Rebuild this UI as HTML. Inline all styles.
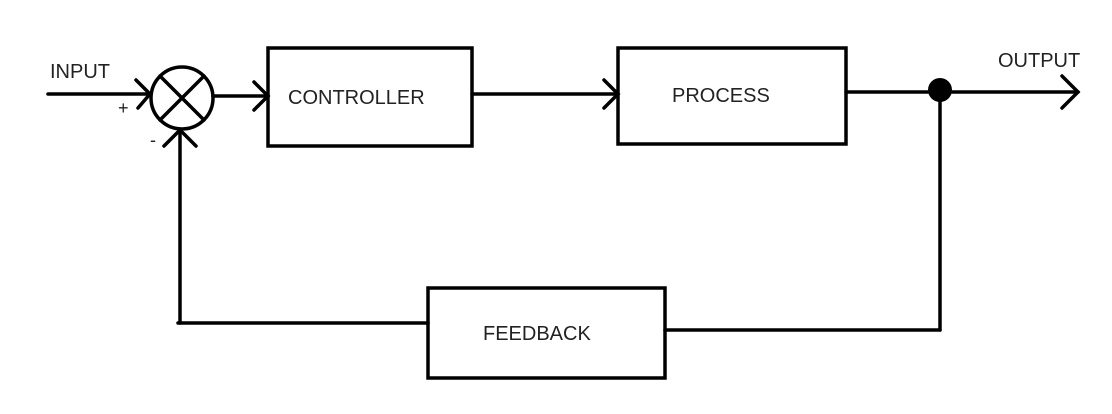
<!DOCTYPE html>
<html><head><style>body{margin:0;background:#fff}svg{display:block}text{font-family:"Liberation Sans",sans-serif;fill:#222}</style></head>
<body>
<svg width="1112" height="414" viewBox="0 0 1112 414" xmlns="http://www.w3.org/2000/svg">
<g stroke="#000" stroke-width="3.5" fill="none" stroke-linecap="round">
<line x1="48" y1="94" x2="150" y2="94"/>
<polyline points="136,80 150,94 138,108"/>
<circle cx="182" cy="98" r="31"/>
<line x1="160" y1="76" x2="204" y2="120"/>
<line x1="204" y1="76" x2="160" y2="120"/>
<line x1="213" y1="96" x2="268" y2="96"/>
<polyline points="254,82 268,96 254,110"/>
<rect x="268" y="48" width="204" height="98"/>
<line x1="472" y1="94" x2="618" y2="94"/>
<polyline points="604,80 618,94 604,108"/>
<rect x="618" y="48" width="228" height="96"/>
<line x1="846" y1="92" x2="1078" y2="92"/>
<polyline points="1062,76 1078,92 1062,108"/>
<line x1="940" y1="92" x2="940" y2="330"/>
<line x1="665" y1="330" x2="940" y2="330"/>
<rect x="428" y="288" width="237" height="90"/>
<line x1="178" y1="323" x2="428" y2="323"/>
<line x1="180" y1="323" x2="180" y2="130"/>
<polyline points="164,146 180,130 196,146"/>
</g>
<circle cx="940" cy="90" r="12" fill="#000"/>
<text x="50" y="78" font-size="20">INPUT</text>
<text x="118" y="114" font-size="18">+</text>
<text x="150" y="146" font-size="18">-</text>
<text x="288" y="104" font-size="20">CONTROLLER</text>
<text x="672" y="102" font-size="20">PROCESS</text>
<text x="998" y="67" font-size="20">OUTPUT</text>
<text x="483" y="340" font-size="20">FEEDBACK</text>
</svg>
</body></html>
